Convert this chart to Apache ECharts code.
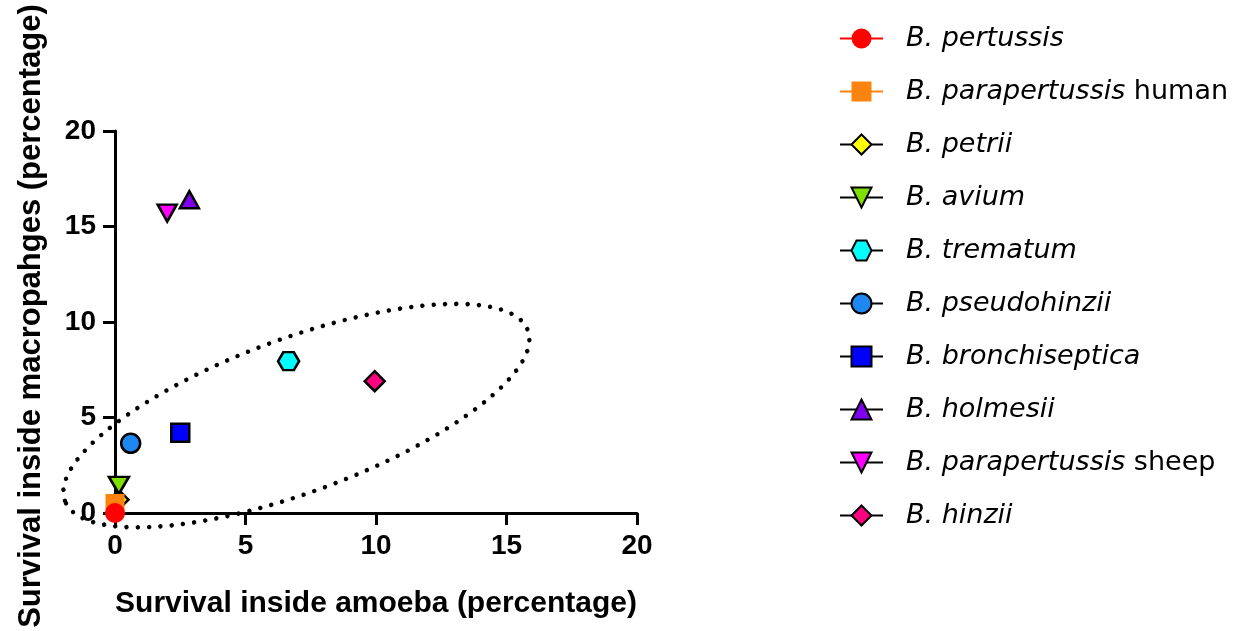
<!DOCTYPE html>
<html>
<head>
<meta charset="utf-8">
<script src="https://cdn.jsdelivr.net/npm/echarts@6/dist/echarts.min.js"></script>
<style>
  html, body { margin: 0; padding: 0; background: #ffffff; }
  #chart { width: 1237px; height: 631px; }
</style>
</head>
<body>
<div id="chart"></div>
<script>
// Bordetella species: survival inside amoeba vs. inside macrophages (%)
const speciesNames = [
  'B. pertussis',
  'B. parapertussis human',
  'B. petrii',
  'B. avium',
  'B. trematum',
  'B. pseudohinzii',
  'B. bronchiseptica',
  'B. holmesii',
  'B. parapertussis sheep',
  'B. hinzii'
];
const amoebaSurvival     = [0, 0, 0.15, 0.15, 6.65, 0.6, 2.5, 2.85, 2.0, 9.95];
const macrophageSurvival = [0, 0.5, 0.7, 1.45, 7.95, 3.65, 4.2, 16.4, 15.7, 6.9];

// Dotted outline around the cluster: centre in data units, radii in x-axis units, tilt in degrees
const clusterCentre = [6.95, 5.1];
const clusterRadii = [9.45, 2.95];
const clusterTilt = 20.2;

const AXIS_MIN = 0, AXIS_MAX = 20, AXIS_STEP = 5;

const HEXAGON = 'path://M0,0.866 L0.5,0 L1.5,0 L2,0.866 L1.5,1.732 L0.5,1.732 Z';
const TRI_UP = 'path://M1,0 L2,1.8 L0,1.8 Z';
const TRI_DOWN = 'path://M0,0 L2,0 L1,1.8 Z';

const markerStyles = [
  { symbol: 'circle',  size: 20,       fill: '#FF0000', line: '#FF0000', border: 0, z: 6 },
  { symbol: 'rect',    size: 19,       fill: '#FB8411', line: '#FB8411', border: 0, z: 5 },
  { symbol: 'diamond', size: 19,       fill: '#FFFF00', line: '#000000', border: 2.5, z: 3 },
  { symbol: TRI_DOWN,  size: [20, 17], fill: '#7FE000', line: '#000000', border: 2.5, z: 4 },
  { symbol: HEXAGON,   size: [21, 18], fill: '#00FFFF', line: '#000000', border: 2.5, z: 4 },
  { symbol: 'circle',  size: 19,       fill: '#1E88F0', line: '#000000', border: 2.5, z: 4 },
  { symbol: 'rect',    size: 18,       fill: '#0000FF', line: '#000000', border: 2.5, z: 4 },
  { symbol: TRI_UP,    size: [19, 17], fill: '#8000F0', line: '#000000', border: 2.5, z: 4 },
  { symbol: TRI_DOWN,  size: [19, 17], fill: '#FF00FF', line: '#000000', border: 2.5, z: 4 },
  { symbol: 'diamond', size: 20,       fill: '#FF0080', line: '#000000', border: 2.5, z: 4 }
];

const speciesSeries = speciesNames.map((name, i) => {
  const st = markerStyles[i];
  return {
    name: name,
    type: 'line',
    data: [[amoebaSurvival[i], macrophageSurvival[i]]],
    symbol: st.symbol,
    symbolSize: st.size,
    showSymbol: true,
    z: st.z,
    itemStyle: {
      color: st.fill,
      borderColor: '#000000',
      borderWidth: st.border
    },
    lineStyle: { color: st.line, width: 2 },
    emphasis: { disabled: true },
    animation: false
  };
});

const clusterSeries = {
  type: 'custom',
  name: 'cluster',
  data: [clusterCentre],
  clip: false,
  silent: true,
  z: 1,
  renderItem: function (params, api) {
    const c = api.coord([api.value(0), api.value(1)]);
    const unit = api.size([1, 0])[0];
    return {
      type: 'ellipse',
      x: c[0],
      y: c[1],
      rotation: clusterTilt * Math.PI / 180,
      shape: { cx: 0, cy: 0, rx: clusterRadii[0] * unit, ry: clusterRadii[1] * unit },
      style: {
        fill: null,
        stroke: '#000000',
        lineWidth: 4.5,
        lineDash: [0, 11.3],
        lineCap: 'round'
      }
    };
  }
};

const axisFont = { fontFamily: 'Liberation Sans, Arial, sans-serif', fontWeight: 'bold', color: '#000000' };

function valueAxis(extra) {
  const axis = {
    type: 'value',
    min: AXIS_MIN,
    max: AXIS_MAX,
    interval: AXIS_STEP,
    nameLocation: 'middle',
    axisLine: { show: true, lineStyle: { color: '#000000', width: 3 } },
    axisTick: { show: true, length: 12, lineStyle: { color: '#000000', width: 3 } },
    axisLabel: Object.assign({ fontSize: 28, margin: 19 }, axisFont),
    splitLine: { show: false }
  };
  return Object.assign(axis, extra);
}

const chart = echarts.init(document.getElementById('chart'), null, { renderer: 'canvas' });
chart.setOption({
  backgroundColor: '#ffffff',
  animation: false,
  grid: { left: 115, top: 131, width: 522, height: 382, outerBoundsMode: 'none' },
  xAxis: valueAxis({
    name: 'Survival inside amoeba (percentage)',
    nameGap: 76,
    nameTextStyle: Object.assign({ fontSize: 30 }, axisFont)
  }),
  yAxis: valueAxis({
    name: 'Survival inside macropahges (percentage)',
    nameGap: 68,
    nameTextStyle: Object.assign({ fontSize: 31, padding: [0, 0, 0, 12] }, axisFont)
  }),
  legend: {
    orient: 'vertical',
    left: 834,
    top: 20,
    itemWidth: 43,
    itemHeight: 25,
    itemGap: 26,
    symbolRotate: 'inherit',
    data: speciesNames,
    formatter: function (name) {
      const m = name.match(/^(B\. \S+)(?: (.+))?$/);
      return m[2] ? '{i|' + m[1] + '} {n|' + m[2] + '}' : '{i|' + m[1] + '}';
    },
    textStyle: {
      fontFamily: 'DejaVu Sans, sans-serif',
      fontSize: 27,
      color: '#000000',
      padding: [0, 0, 0, 18],
      rich: {
        i: { fontFamily: 'DejaVu Sans, sans-serif', fontStyle: 'italic', fontSize: 27, color: '#000000' },
        n: { fontFamily: 'DejaVu Sans, sans-serif', fontSize: 27, color: '#000000' }
      }
    }
  },
  series: [clusterSeries].concat(speciesSeries)
});
</script>
</body>
</html>
